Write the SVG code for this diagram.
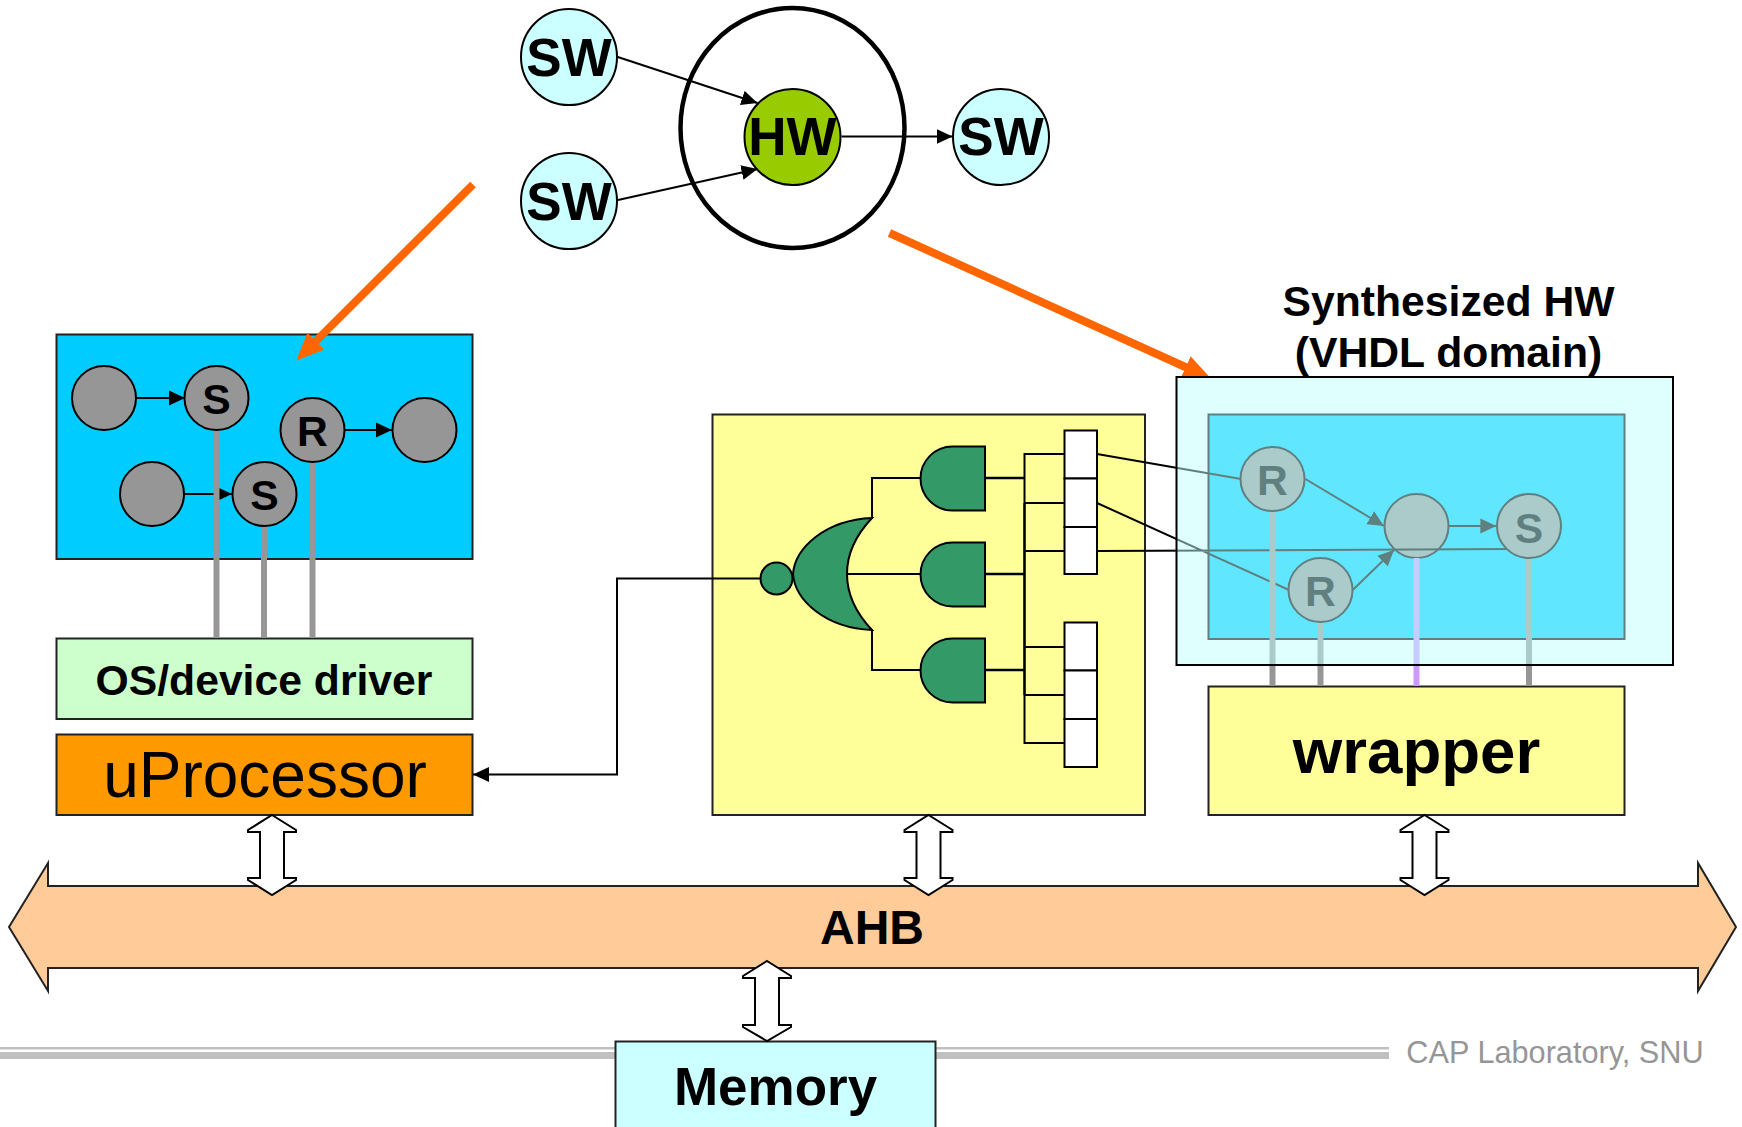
<svg xmlns="http://www.w3.org/2000/svg" width="1742" height="1127" viewBox="0 0 1742 1127">
<style>
text{font-family:"Liberation Sans",Arial,sans-serif;font-weight:bold;fill:#000;text-anchor:middle}
.box{stroke:#222;stroke-width:2}
.dot{fill:#969696;stroke:#000;stroke-width:2}
.sw{fill:#ccffff;stroke:#000;stroke-width:2}
.gate{fill:#339966;stroke:#000;stroke-width:2}
.cell{fill:#fff;stroke:#000;stroke-width:2}
.wire{fill:none;stroke:#000;stroke-width:2}
.out{fill:none;stroke:#000;stroke-width:2.6}
.arr{fill:none;stroke:#000;stroke-width:2;marker-end:url(#tip)}
.bar{fill:none;stroke:#969696;stroke-width:6}
.big{fill:none;stroke:#ff6600;stroke-width:8;marker-end:url(#orange)}
.dbl{fill:#fff;stroke:#000;stroke-width:2}
.l{font-size:42.7px}
.s{font-size:53px}
</style>
<defs>
<marker id="tip" markerUnits="userSpaceOnUse" markerWidth="17" markerHeight="17" viewBox="0 0 17 17" refX="16" refY="8" orient="auto"><path d="M0,0.5 L16,8 L0,15.5 Z" fill="#000"/></marker>
<marker id="orange" markerUnits="userSpaceOnUse" markerWidth="29" markerHeight="26" viewBox="0 0 29 26" refX="7" refY="13" orient="auto"><path d="M0,1 L28,13 L0,25 Z" fill="#ff6600"/></marker>
<clipPath id="above"><rect x="0" y="0" width="1742" height="377"/></clipPath>
</defs>

<g id="footer">
<rect x="0" y="1047" width="1389" height="2.5" fill="#c0c0c0"/>
<rect x="0" y="1052" width="1389" height="7" fill="#c0c0c0"/>
<text x="1555" y="1062.5" style="font-size:30.7px;font-weight:normal;fill:#969696">CAP Laboratory, SNU</text>
</g>

<g id="bus">
<path class="box" fill="#ffcc99" d="M9,927 L48,863 V886 H1698 V863 L1736,927 L1698,991 V968 H48 V991 Z"/>
<text x="872" y="944" style="font-size:48px">AHB</text>
</g>

<g id="memory">
<rect class="box" fill="#ccffff" x="615.5" y="1041.5" width="320" height="100"/>
<text x="775.5" y="1105" style="font-size:53px">Memory</text>
</g>

<g id="title"><text x="1448.5" y="316" class="l">Synthesized HW</text><text x="1448.5" y="367" class="l">(VHDL domain)</text></g>

<g id="sw-domain"><rect class="box" fill="#00ccff" x="56.5" y="334.5" width="416" height="224.5"/></g>
<g id="os-driver"><rect class="box" fill="#ccffcc" x="56.5" y="638.5" width="416" height="80.5"/><text x="264" y="695" class="l">OS/device driver</text></g>
<g id="uprocessor"><rect class="box" fill="#ff9900" x="56.5" y="734.5" width="416" height="80.5"/><text x="265" y="797" style="font-size:64px;font-weight:normal">uProcessor</text></g>
<g id="hw-ip"><rect class="box" fill="#ffff99" x="712.5" y="414.5" width="432.5" height="400.5"/></g>
<g id="wrapper"><rect class="box" fill="#ffff99" x="1208.5" y="686.5" width="416" height="128.5"/><text x="1416.5" y="773" style="font-size:63.6px">wrapper</text></g>

<g id="hw-domain-base">
<rect fill="#fff" x="1176.5" y="377" width="496.5" height="288"/>
<rect fill="#00ccff" stroke="#000" stroke-width="2" x="1208.5" y="414.5" width="416" height="224.5"/>
</g>
<g id="hw-node-mid"><circle class="dot" cx="1416.5" cy="526" r="32"/></g>

<g id="connectors">
<path class="big" clip-path="url(#above)" d="M889.5,233 L1192,370"/>
<path class="big" d="M473,184.5 L311,346"/>
<path class="arr" d="M617.8,57 L757.5,103"/>
<path class="arr" d="M618,200 L757.5,169"/>
<path class="arr" d="M841.6,136.5 L952.6,136.5"/>
<path class="arr" d="M136,398 L185,398"/>
<path class="arr" d="M344,430 L392,430"/>
<path class="arr" d="M184,494 L232,494"/>
<path class="bar" d="M216.5,430 V638 M264,526 V638 M312.5,462 V638"/>
<path class="arr" d="M760,578.5 H617 V774.5 H473"/>
<path class="wire" d="M872,518 V478 H920 M872,630 V670 H920 M847,574 H920"/>
<path class="out" d="M985,478 H1024 M985,574 H1024 M985,670 H1024 M1024.5,503 V695"/>
<path class="wire" d="M1024.5,503 V454 H1064 M1024.5,503 H1064 M1024.5,551 H1064 M1024.5,647 H1064 M1024.5,695 H1064 M1024.5,695 V743 H1064"/>
<path class="wire" d="M1097,454 L1241,479 M1097,503 L1289,590 M1097,551 L1507,549"/>
<path class="arr" d="M1305.4,479 L1384,526"/>
<path class="arr" d="M1352.7,590 L1394,550"/>
<path class="arr" d="M1449,526 L1496.4,526"/>
<path class="bar" d="M1272.5,511 V686 M1320.5,622 V686 M1529,558 V686"/>
<path fill="none" stroke="#cc99ff" stroke-width="6" d="M1416.5,558 V686"/>
<path class="dbl" d="M272,815 L296,830 V832 H284 V878 H296 V880 L272,895 L248,880 V878 H260 V832 H248 V830 Z"/>
<path class="dbl" d="M928.5,815 L952.5,830 V832 H940.5 V878 H952.5 V880 L928.5,895 L904.5,880 V878 H916.5 V832 H904.5 V830 Z"/>
<path class="dbl" d="M1424.5,815 L1448.5,830 V832 H1436.5 V878 H1448.5 V880 L1424.5,895 L1400.5,880 V878 H1412.5 V832 H1400.5 V830 Z"/>
<path class="dbl" d="M767,961 L791,976 V978 H779 V1025 H791 V1027 L767,1041 L743,1027 V1025 H755 V978 H743 V976 Z"/>
</g>

<g id="hw-cluster">
<ellipse cx="792.5" cy="128" rx="112" ry="120" fill="none" stroke="#000" stroke-width="4.5"/>
</g>
<g id="sw1"><circle class="sw" cx="569" cy="57" r="48"/><text x="569" y="75.5" class="s">SW</text></g>
<g id="sw2"><circle class="sw" cx="569" cy="201" r="48"/><text x="569" y="219.5" class="s">SW</text></g>
<g id="hw"><circle fill="#99cc00" stroke="#000" stroke-width="2" cx="792.5" cy="137" r="48"/><text x="792.5" y="155" class="s">HW</text></g>
<g id="sw3"><circle class="sw" cx="1001" cy="137" r="48"/><text x="1001" y="155" class="s">SW</text></g>

<g id="p1"><circle class="dot" cx="104" cy="398" r="32"/></g>
<g id="s1"><circle class="dot" cx="216.5" cy="398" r="32"/><text x="216.5" y="414" class="l">S</text></g>
<g id="r1"><circle class="dot" cx="312.5" cy="430" r="32"/><text x="312.5" y="445.5" class="l">R</text></g>
<g id="p2"><circle class="dot" cx="424.5" cy="430" r="32"/></g>
<g id="p3"><circle class="dot" cx="152" cy="494" r="32"/></g>
<g id="s2"><circle class="dot" cx="264.5" cy="494" r="32"/><text x="264.5" y="510" class="l">S</text></g>

<g id="inverter"><circle class="gate" cx="776.5" cy="578.5" r="16"/></g>
<g id="nor-gate"><path class="gate" d="M872,518 C825,520 795,548 793,574 C795,600 825,628 872,630 C855,612 847,594 847,574 C847,554 855,536 872,518 Z"/></g>
<g id="and1"><path class="gate" d="M985,446.5 H952.5 A32,32 0 0 0 952.5,510.5 H985 Z"/></g>
<g id="and2"><path class="gate" d="M985,542.5 H952.5 A32,32 0 0 0 952.5,606.5 H985 Z"/></g>
<g id="and3"><path class="gate" d="M985,638.5 H952.5 A32,32 0 0 0 952.5,702.5 H985 Z"/></g>
<g id="reg-a"><rect class="cell" x="1064.5" y="430.5" width="32.5" height="48"/><rect class="cell" x="1064.5" y="478.5" width="32.5" height="48.5"/><rect class="cell" x="1064.5" y="527" width="32.5" height="47"/></g>
<g id="reg-b"><rect class="cell" x="1064.5" y="622.5" width="32.5" height="48"/><rect class="cell" x="1064.5" y="670.5" width="32.5" height="48.5"/><rect class="cell" x="1064.5" y="719" width="32.5" height="48"/></g>

<g id="hw-r1"><circle class="dot" cx="1272.5" cy="479" r="32"/><text x="1272.5" y="494.5" class="l">R</text></g>
<g id="hw-r2"><circle class="dot" cx="1320.5" cy="590" r="32"/><text x="1320.5" y="606" class="l">R</text></g>
<g id="hw-s"><circle class="dot" cx="1529" cy="526" r="32"/><text x="1529" y="542.5" class="l">S</text></g>

<g id="hw-domain-overlay">
<rect x="1176.5" y="377" width="496.5" height="288" fill="#c0ffff" fill-opacity="0.5" stroke="#000" stroke-width="2"/>
</g>
</svg>
